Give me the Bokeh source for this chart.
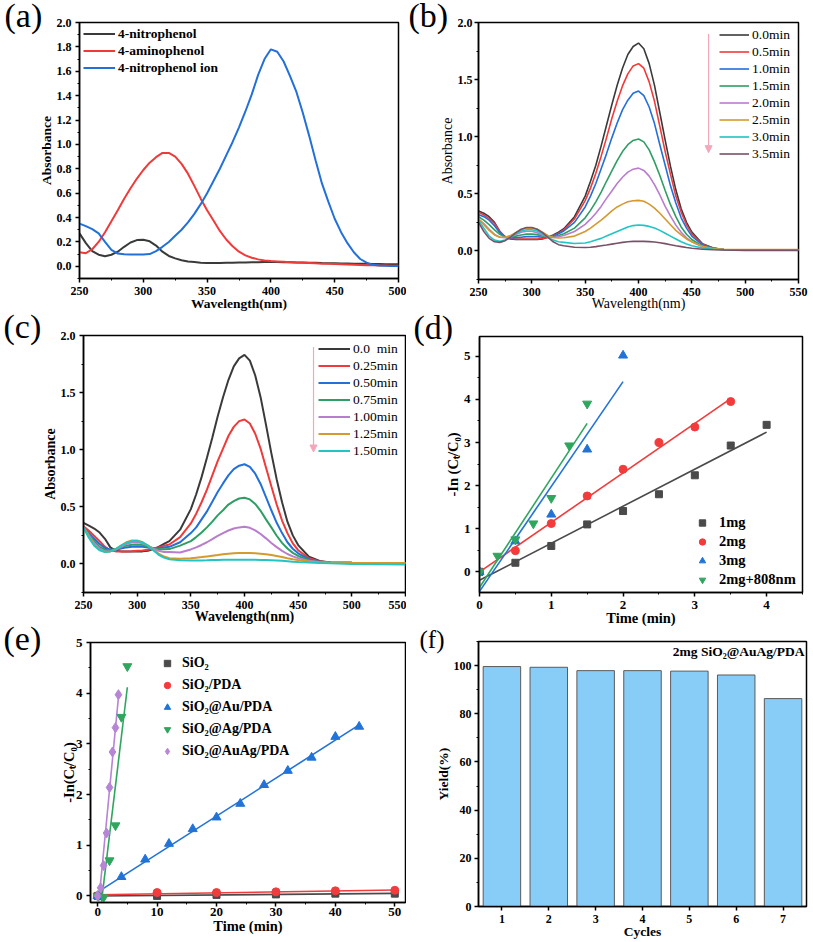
import numpy as np
from jinja2 import Template
from bokeh.plotting import figure
from bokeh.models import (Legend, LegendItem, Label, Arrow, NormalHead, Range1d,
                          SingleIntervalTicker, FixedTicker, NumeralTickFormatter)
from bokeh.embed import file_html
from bokeh.resources import INLINE

FONT = "Liberation Serif"

# ---------------- data ----------------
# (a) reference spectra
WL_A = [250, 255, 260, 265, 270, 275, 280, 285, 290, 295, 300, 305, 310, 315, 320, 325, 330, 335, 340, 345,
        350, 355, 360, 365, 370, 375, 380, 385, 390, 395, 400, 405, 410, 415, 420, 425, 430, 435, 440, 445,
        450, 455, 460, 465, 470, 475, 480, 485, 490, 495, 500]
A_LABELS = ["4-nitrophenol", "4-aminophenol", "4-nitrophenol ion"]
A_NP = [0.27, 0.19, 0.125, 0.095, 0.083, 0.095, 0.12, 0.16, 0.195, 0.215, 0.218, 0.205, 0.17, 0.12, 0.085, 0.065,
        0.05, 0.04, 0.035, 0.03, 0.028, 0.028, 0.028, 0.029, 0.03, 0.031, 0.032, 0.033, 0.034, 0.035, 0.035, 0.035,
        0.034, 0.033, 0.032, 0.031, 0.03, 0.029, 0.027, 0.026, 0.025, 0.024, 0.023, 0.022, 0.021, 0.02, 0.019,
        0.018, 0.017, 0.016, 0.016]
A_AP = [0.115, 0.108, 0.14, 0.2, 0.28, 0.37, 0.46, 0.555, 0.64, 0.72, 0.79, 0.85, 0.895, 0.93, 0.93, 0.9, 0.84,
        0.76, 0.66, 0.555, 0.46, 0.375, 0.29, 0.22, 0.165, 0.12, 0.09, 0.07, 0.057, 0.048, 0.043, 0.04, 0.037,
        0.034, 0.031, 0.029, 0.027, 0.025, 0.022, 0.02, 0.018, 0.016, 0.014, 0.012, 0.01, 0.009, 0.008, 0.007,
        0.006, 0.005, 0.005]
A_ION = [0.35, 0.33, 0.305, 0.27, 0.2, 0.135, 0.105, 0.098, 0.096, 0.096, 0.097, 0.1, 0.125, 0.16, 0.2, 0.25,
         0.3, 0.36, 0.43, 0.51, 0.6, 0.7, 0.8, 0.91, 1.02, 1.14, 1.27, 1.41, 1.57, 1.70, 1.78, 1.76, 1.68, 1.56,
         1.43, 1.26, 1.07, 0.87, 0.68, 0.53, 0.39, 0.28, 0.19, 0.115, 0.06, 0.03, 0.012, 0.006, 0.004, 0.003,
         0.003]

# (b), (c) time-resolved spectra
WL_BC = [250, 255, 260, 265, 270, 275, 280, 285, 290, 295, 300, 305, 310, 315, 320, 325, 330, 340, 350, 355,
         360, 365, 370, 375, 380, 385, 390, 395, 400, 405, 410, 415, 420, 425, 430, 435, 440, 445, 450, 460,
         470, 480, 500, 525, 550]

B_LABELS = ["0.0min", "0.5min", "1.0min", "1.5min", "2.0min", "2.5min", "3.0min", "3.5min"]
B_00 = [0.35, 0.33, 0.30, 0.25, 0.17, 0.12, 0.105, 0.10, 0.10, 0.10, 0.10, 0.10, 0.105, 0.12, 0.14, 0.165, 0.195,
        0.30, 0.48, 0.61, 0.75, 0.92, 1.10, 1.28, 1.45, 1.60, 1.72, 1.79, 1.82, 1.77, 1.64, 1.45, 1.21, 0.97,
        0.74, 0.535, 0.37, 0.25, 0.165, 0.062, 0.026, 0.012, 0.01, 0.01, 0.01]
B_05 = [0.34, 0.315, 0.285, 0.24, 0.17, 0.125, 0.11, 0.105, 0.105, 0.105, 0.105, 0.105, 0.11, 0.118, 0.135, 0.155,
        0.185, 0.28, 0.44, 0.55, 0.68, 0.83, 0.99, 1.16, 1.31, 1.445, 1.55, 1.62, 1.64, 1.60, 1.48, 1.31, 1.09,
        0.87, 0.67, 0.48, 0.34, 0.23, 0.15, 0.058, 0.025, 0.012, 0.01, 0.01, 0.01]
B_10 = [0.32, 0.30, 0.27, 0.22, 0.16, 0.125, 0.115, 0.115, 0.12, 0.125, 0.127, 0.125, 0.12, 0.12, 0.13, 0.15,
        0.175, 0.25, 0.385, 0.48, 0.59, 0.72, 0.85, 0.99, 1.12, 1.235, 1.32, 1.38, 1.40, 1.36, 1.26, 1.115, 0.93,
        0.75, 0.57, 0.42, 0.29, 0.20, 0.13, 0.052, 0.023, 0.012, 0.01, 0.01, 0.01]
B_15 = [0.30, 0.27, 0.23, 0.185, 0.145, 0.12, 0.12, 0.13, 0.14, 0.147, 0.148, 0.143, 0.132, 0.122, 0.125, 0.135,
        0.15, 0.20, 0.29, 0.355, 0.43, 0.515, 0.61, 0.70, 0.79, 0.87, 0.93, 0.967, 0.98, 0.955, 0.885, 0.78, 0.66,
        0.53, 0.405, 0.30, 0.21, 0.146, 0.10, 0.042, 0.02, 0.012, 0.01, 0.01, 0.01]
B_20 = [0.28, 0.24, 0.19, 0.145, 0.12, 0.115, 0.125, 0.145, 0.163, 0.173, 0.172, 0.16, 0.14, 0.122, 0.118, 0.125,
        0.135, 0.17, 0.233, 0.278, 0.33, 0.39, 0.46, 0.525, 0.59, 0.645, 0.69, 0.716, 0.725, 0.705, 0.655, 0.58,
        0.49, 0.39, 0.305, 0.226, 0.163, 0.115, 0.081, 0.036, 0.018, 0.012, 0.01, 0.01, 0.01]
B_25 = [0.28, 0.23, 0.18, 0.14, 0.12, 0.12, 0.135, 0.16, 0.185, 0.20, 0.202, 0.19, 0.165, 0.135, 0.118, 0.113,
        0.115, 0.13, 0.17, 0.20, 0.235, 0.27, 0.31, 0.35, 0.385, 0.41, 0.43, 0.44, 0.443, 0.435, 0.41, 0.375,
        0.33, 0.28, 0.23, 0.18, 0.14, 0.105, 0.08, 0.04, 0.02, 0.014, 0.012, 0.012, 0.012]
B_30 = [0.27, 0.20, 0.13, 0.095, 0.085, 0.095, 0.12, 0.15, 0.175, 0.185, 0.185, 0.175, 0.15, 0.12, 0.095, 0.08,
        0.075, 0.065, 0.07, 0.08, 0.095, 0.11, 0.13, 0.15, 0.17, 0.19, 0.21, 0.222, 0.227, 0.224, 0.215, 0.20,
        0.18, 0.155, 0.13, 0.105, 0.08, 0.06, 0.045, 0.025, 0.015, 0.01, 0.008, 0.008, 0.008]
B_35 = [0.25, 0.17, 0.11, 0.08, 0.075, 0.09, 0.12, 0.16, 0.19, 0.205, 0.205, 0.19, 0.16, 0.12, 0.08, 0.055,
        0.045, 0.032, 0.03, 0.032, 0.038, 0.045, 0.052, 0.06, 0.068, 0.075, 0.081, 0.084, 0.085, 0.084, 0.082,
        0.078, 0.072, 0.064, 0.055, 0.046, 0.038, 0.03, 0.024, 0.015, 0.01, 0.008, 0.005, 0.005, 0.005]

C_LABELS = ["0.0  min", "0.25min", "0.50min", "0.75min", "1.00min", "1.25min", "1.50min"]
C_000 = [0.36, 0.335, 0.31, 0.275, 0.22, 0.145, 0.115, 0.11, 0.11, 0.11, 0.11, 0.11, 0.115, 0.13, 0.15, 0.175,
         0.20, 0.30, 0.48, 0.61, 0.76, 0.93, 1.105, 1.29, 1.46, 1.61, 1.73, 1.80, 1.83, 1.78, 1.65, 1.46, 1.22,
         0.97, 0.74, 0.54, 0.37, 0.25, 0.165, 0.063, 0.026, 0.012, 0.01, 0.008, 0.008]
C_025 = [0.33, 0.29, 0.245, 0.2, 0.15, 0.12, 0.11, 0.11, 0.11, 0.112, 0.115, 0.118, 0.125, 0.135, 0.145, 0.16,
         0.17, 0.235, 0.355, 0.44, 0.54, 0.65, 0.775, 0.90, 1.01, 1.12, 1.20, 1.25, 1.265, 1.23, 1.14, 1.01,
         0.845, 0.68, 0.52, 0.38, 0.27, 0.18, 0.12, 0.05, 0.022, 0.012, 0.01, 0.008, 0.008]
C_050 = [0.32, 0.27, 0.22, 0.175, 0.14, 0.125, 0.125, 0.135, 0.145, 0.15, 0.152, 0.15, 0.145, 0.14, 0.14, 0.145,
         0.15, 0.19, 0.27, 0.32, 0.39, 0.46, 0.545, 0.63, 0.705, 0.775, 0.83, 0.86, 0.873, 0.85, 0.79, 0.70,
         0.585, 0.47, 0.36, 0.27, 0.19, 0.133, 0.093, 0.04, 0.018, 0.012, 0.01, 0.008, 0.008]
C_075 = [0.32, 0.26, 0.2, 0.15, 0.125, 0.12, 0.13, 0.145, 0.16, 0.168, 0.17, 0.165, 0.15, 0.138, 0.13, 0.128,
         0.13, 0.16, 0.20, 0.235, 0.275, 0.32, 0.37, 0.425, 0.47, 0.52, 0.55, 0.573, 0.58, 0.565, 0.525, 0.465,
         0.39, 0.32, 0.247, 0.185, 0.135, 0.097, 0.07, 0.033, 0.016, 0.01, 0.008, 0.008, 0.008]
C_100 = [0.32, 0.25, 0.18, 0.135, 0.11, 0.11, 0.125, 0.15, 0.175, 0.19, 0.192, 0.18, 0.16, 0.135, 0.115, 0.105,
         0.105, 0.10, 0.127, 0.145, 0.166, 0.19, 0.217, 0.245, 0.27, 0.293, 0.31, 0.32, 0.325, 0.316, 0.294,
         0.262, 0.224, 0.184, 0.147, 0.114, 0.087, 0.066, 0.051, 0.027, 0.014, 0.01, 0.008, 0.008, 0.008]
C_125 = [0.32, 0.24, 0.17, 0.125, 0.105, 0.11, 0.13, 0.16, 0.19, 0.205, 0.205, 0.19, 0.16, 0.125, 0.09, 0.065,
         0.05, 0.045, 0.05, 0.055, 0.06, 0.066, 0.072, 0.078, 0.085, 0.09, 0.093, 0.095, 0.096, 0.096, 0.094,
         0.09, 0.085, 0.078, 0.07, 0.06, 0.05, 0.042, 0.035, 0.022, 0.015, 0.01, 0.008, 0.008, 0.008]
C_150 = [0.32, 0.23, 0.16, 0.12, 0.105, 0.11, 0.13, 0.16, 0.185, 0.2, 0.2, 0.19, 0.16, 0.12, 0.08, 0.055,
         0.04, 0.032, 0.03, 0.03, 0.031, 0.032, 0.034, 0.035, 0.036, 0.037, 0.037, 0.037, 0.037, 0.037, 0.036,
         0.035, 0.034, 0.032, 0.03, 0.027, 0.024, 0.02, 0.017, 0.012, 0.008, 0.005, 0.0, -0.003, -0.005]

# (d) kinetics, catalyst amount
D_LABELS = ["1mg", "2mg", "3mg", "2mg+808nm"]
D_T1 = [0, 0.5, 1, 1.5, 2, 2.5, 3, 3.5, 4]
D_Y1 = [0, 0.21, 0.60, 1.10, 1.41, 1.80, 2.24, 2.93, 3.41]
D_T2 = [0, 0.5, 1, 1.5, 2, 2.5, 3, 3.5]
D_Y2 = [0, 0.49, 1.12, 1.76, 2.38, 3.00, 3.36, 3.95]
D_T3 = [0, 0.5, 1, 1.5, 2]
D_Y3 = [0, 0.71, 1.33, 2.84, 5.02]
D_T4 = [0, 0.25, 0.5, 0.75, 1, 1.25, 1.5]
D_Y4 = [0, 0.37, 0.75, 1.12, 1.71, 2.93, 3.90]

# (e) kinetics, catalyst type
E_LABELS = ["SiO\u2082", "SiO\u2082/PDA", "SiO\u2082@Au/PDA", "SiO\u2082@Ag/PDA", "SiO\u2082@AuAg/PDA"]
E_T1 = [0, 10, 20, 30, 40, 50]
E_Y1 = [0, 0.0, 0.02, 0.03, 0.045, 0.045]
E_T2 = [0, 10, 20, 30, 40, 50]
E_Y2 = [0, 0.066, 0.066, 0.08, 0.10, 0.11]
E_T3 = [0, 4, 8, 12, 16, 20, 24, 28, 32, 36, 40, 44]
E_Y3 = [0, 0.375, 0.72, 1.03, 1.32, 1.55, 1.82, 2.19, 2.47, 2.73, 3.14, 3.34]
E_T4 = [0, 1, 2, 3, 4, 5]
E_Y4 = [0, -0.03, 0.70, 1.39, 3.53, 4.53]
E_T5 = [0, 0.5, 1, 1.5, 2, 2.5, 3, 3.5]
E_Y5 = [0, 0.16, 0.60, 1.24, 2.14, 2.84, 3.32, 3.97]

# (f) recycling
F_CYCLES = [1, 2, 3, 4, 5, 6, 7]
F_YIELD = [99.6, 99.3, 97.9, 97.9, 97.7, 96.1, 86.3]

# ---------------- styling ----------------
COL8 = ["#3a3a3a", "#f03a3a", "#2270d8", "#2e9e64", "#b87dcc", "#d49a2e", "#22c4c4", "#7a5068"]
MK_COL = ["#4a4a4a", "#f23b3b", "#2273d8", "#2fa65e", "#b784d6"]
PINK = "#f2a7ba"

# page position of every root (left, top) in pixels
POS = {"pa": (0, 0), "pc": (0, 313), "pe": (0, 626),
       "pb": (406, 0), "pd": (406, 313), "pf": (406, 629),
       "la": (0, 0), "lb": (406, 0), "lc": (0, 305), "ld": (406, 310), "le": (0, 620), "lf": (406, 622)}


def make_fig(name, w, h, xr, yr, left, right, top, bottom):
    p = figure(width=w, height=h, x_range=Range1d(*xr), y_range=Range1d(*yr),
               output_backend="svg", toolbar_location=None,
               min_border_left=left, min_border_right=right,
               min_border_top=top, min_border_bottom=bottom)
    p.name = name
    p.xgrid.visible = False
    p.ygrid.visible = False
    p.outline_line_color = "black"
    p.outline_line_width = 1.5
    p.outline_line_alpha = 1
    p.background_fill_color = "white"
    p.border_fill_color = "white"
    return p


def letter_fig(name, text, w, h, x, y, size="34px"):
    f = figure(width=w, height=h, x_range=Range1d(0, w), y_range=Range1d(0, h),
               output_backend="svg", toolbar_location=None, x_axis_type=None, y_axis_type=None,
               min_border=0, min_border_left=0, min_border_right=0, min_border_top=0, min_border_bottom=0)
    f.name = name
    f.outline_line_color = None
    f.background_fill_alpha = 0
    f.border_fill_alpha = 0
    f.add_layout(Label(x=x, y=y, x_units="screen", y_units="screen", text=text,
                       text_font=FONT, text_font_size=size, text_color="black",
                       text_baseline="alphabetic", text_align="left"))
    return f


def style_axes(p, xlabel, ylabel, label_style, tick_size, label_size,
               x_std=4, y_std=4, xl_std=-2, yl_std=0):
    for ax, lab, std, lstd in ((p.xaxis[0], xlabel, x_std, xl_std), (p.yaxis[0], ylabel, y_std, yl_std)):
        ax.axis_label = lab
        ax.axis_line_width = 1.5
        ax.axis_line_color = "black"
        ax.major_tick_line_width = 1.5
        ax.minor_tick_line_width = 1
        ax.major_tick_out = 4
        ax.major_tick_in = 0
        ax.minor_tick_out = 2
        ax.minor_tick_in = 0
        ax.major_label_standoff = std
        ax.axis_label_standoff = lstd
        ax.major_label_text_font = FONT
        ax.major_label_text_font_style = "bold"
        ax.major_label_text_font_size = tick_size
        ax.major_label_text_color = "black"
        ax.axis_label_text_font = FONT
        ax.axis_label_text_font_style = label_style
        ax.axis_label_text_font_size = label_size
        ax.axis_label_text_color = "black"


def add_legend(p, items, loc, style, size, glyph_w, row_h, standoff):
    leg = Legend(items=items, location=loc, orientation="vertical",
                 background_fill_alpha=0, border_line_alpha=0,
                 padding=0, spacing=0, margin=0,
                 glyph_width=glyph_w, glyph_height=row_h, label_height=row_h,
                 label_standoff=standoff, label_text_font=FONT,
                 label_text_font_style=style, label_text_font_size=size,
                 label_text_color="black")
    p.add_layout(leg)


# ---------------- (a) ----------------
pa = make_fig("pa", 406, 313, (250, 500), (-0.1, 2.0), 79, 8, 22, 35)
style_axes(pa, "Wavelength(nm)", "Absorbance", "bold", "12px", "13.5px")
pa.xaxis.ticker = SingleIntervalTicker(interval=50, num_minor_ticks=2)
pa.yaxis.ticker = SingleIntervalTicker(interval=0.2, num_minor_ticks=2)
pa.yaxis.formatter = NumeralTickFormatter(format="0.0")
items = []
for lab, ys, col in zip(A_LABELS, [A_NP, A_AP, A_ION], [COL8[0], COL8[1], COL8[2]]):
    r = pa.line(WL_A, ys, line_color=col, line_width=2)
    items.append(LegendItem(label=lab, renderers=[r]))
add_legend(pa, items, (4, 202), "bold", "13.5px", 32, 17, 3)

# ---------------- (b) ----------------
pb = make_fig("pb", 407, 313, (250, 550), (-0.25, 2.0), 72, 15, 22, 34)
style_axes(pb, "Wavelength(nm)", "Absorbance", "normal", "12px", "14px", y_std=2, xl_std=-3)
pb.xaxis.ticker = SingleIntervalTicker(interval=50, num_minor_ticks=2)
pb.yaxis.ticker = SingleIntervalTicker(interval=0.5, num_minor_ticks=2)
pb.yaxis.formatter = NumeralTickFormatter(format="0.0")
items = []
for lab, ys, col in zip(B_LABELS, [B_00, B_05, B_10, B_15, B_20, B_25, B_30, B_35], COL8):
    r = pb.line(WL_BC, ys, line_color=col, line_width=1.6)
    items.append(LegendItem(label=lab, renderers=[r]))
add_legend(pb, items, (241, 117), "normal", "13.5px", 30, 17, 3)
pb.add_layout(Arrow(end=NormalHead(size=7, fill_color=PINK, line_color=PINK),
                    x_start=465.7, y_start=1.90, x_end=465.7, y_end=0.86,
                    line_color=PINK, line_width=1.2))

# ---------------- (c) ----------------
pc = make_fig("pc", 406, 313, (250, 550), (-0.25, 2.0), 83, 1, 22, 34)
style_axes(pc, "Wavelength(nm)", "Absorbance", "bold", "12px", "14px", xl_std=-3)
pc.xaxis.ticker = SingleIntervalTicker(interval=50, num_minor_ticks=2)
pc.yaxis.ticker = SingleIntervalTicker(interval=0.5, num_minor_ticks=2)
pc.yaxis.formatter = NumeralTickFormatter(format="0.0")
items = []
for lab, ys, col in zip(C_LABELS, [C_000, C_025, C_050, C_075, C_100, C_125, C_150], COL8[:7]):
    r = pc.line(WL_BC, ys, line_color=col, line_width=2)
    items.append(LegendItem(label=lab, renderers=[r]))
add_legend(pc, items, (235, 133), "normal", "13.5px", 32, 17, 3)
pc.add_layout(Arrow(end=NormalHead(size=7, fill_color=PINK, line_color=PINK),
                    x_start=464.3, y_start=1.90, x_end=464.3, y_end=0.98,
                    line_color=PINK, line_width=1.2))

# ---------------- (d) ----------------
pd_ = make_fig("pd", 407, 316, (0, 4.5), (-0.48, 5.46), 73, 11, 23, 37)
style_axes(pd_, "Time (min)", "-In (C\u209c/C\u2080)", "bold", "13px", "14.5px", y_std=5, xl_std=-2)
pd_.xaxis.ticker = SingleIntervalTicker(interval=1, num_minor_ticks=2)
pd_.yaxis.ticker = SingleIntervalTicker(interval=1, num_minor_ticks=2)
d_sets = [(D_T1, D_Y1, "square", 7), (D_T2, D_Y2, "circle", 8), (D_T3, D_Y3, "triangle", 9),
          (D_T4, D_Y4, "inverted_triangle", 9)]
for (t, y, mk, sz), col in zip(d_sets, MK_COL):
    k, b = np.polyfit(t, y, 1)
    xs = [min(t), max(t)]
    pd_.line(xs, [k * x + b for x in xs], line_color=col, line_width=1.6)
items = []
for (t, y, mk, sz), col, lab in zip(d_sets, MK_COL, D_LABELS):
    r = pd_.scatter(t, y, marker=mk, size=sz, fill_color=col, line_color=col)
    items.append(LegendItem(label=lab, renderers=[r]))
add_legend(pd_, items, (215, 3), "bold", "14.5px", 16, 19, 9)

# ---------------- (e) ----------------
pe = make_fig("pe", 406, 316, (-1.2, 51.8), (-0.13, 5.0), 90, 1, 16, 40)
style_axes(pe, "Time (min)", "-In(C\u209c/C\u2080)", "bold", "13px", "14.5px", x_std=1, xl_std=-1, yl_std=-4)
pe.xaxis.ticker = SingleIntervalTicker(interval=10, num_minor_ticks=2)
pe.yaxis.ticker = SingleIntervalTicker(interval=1, num_minor_ticks=2)
e_sets = [(E_T1, E_Y1, "square", 7), (E_T2, E_Y2, "circle", 8), (E_T3, E_Y3, "triangle", 9),
          (E_T4, E_Y4, "inverted_triangle", 9), (E_T5, E_Y5, "diamond", 10)]
for (t, y, mk, sz), col in zip(e_sets, MK_COL):
    k, b = np.polyfit(t, y, 1)
    xs = [min(t), max(t)]
    pe.line(xs, [k * x + b for x in xs], line_color=col, line_width=1.6)
items = []
for (t, y, mk, sz), col, lab in zip(e_sets, MK_COL, E_LABELS):
    r = pe.scatter(t, y, marker=mk, size=sz, fill_color=col, line_color=col)
    items.append(LegendItem(label=lab, renderers=[r]))
add_legend(pe, items, (69, 140), "bold", "14px", 16, 22, 7)

# ---------------- (f) ----------------
pf = make_fig("pf", 407, 313, (0.5, 7.5), (0, 110), 72, 7, 12, 36)
style_axes(pf, "Cycles", "Yield(%)", "bold", "12px", "13.5px", y_std=3, xl_std=-2)
pf.xaxis.ticker = FixedTicker(ticks=F_CYCLES, minor_ticks=[])
pf.yaxis.ticker = SingleIntervalTicker(interval=20, num_minor_ticks=2)
pf.vbar(x=F_CYCLES, top=F_YIELD, width=0.8, bottom=0, fill_color="#88cdf8",
        line_color="#5a5a5a", line_width=1)
pf.add_layout(Label(x=326, y=255, x_units="screen", y_units="screen",
                    text="2mg SiO\u2082@AuAg/PDA", text_align="right", text_baseline="alphabetic",
                    text_font=FONT, text_font_style="bold", text_font_size="13.5px", text_color="black"))

# ---------------- panel letters ----------------
la = letter_fig("la", "(a)", 50, 40, 4, 25)
lb = letter_fig("lb", "(b)", 50, 40, 2, 25)
lc = letter_fig("lc", "(c)", 50, 45, 3, 24)
ld = letter_fig("ld", "(d)", 50, 45, 7, 28)
le = letter_fig("le", "(e)", 50, 45, 3, 27)
lf = letter_fig("lf", "(f)", 50, 40, 13, 23, size="25px")

PAGE = Template("""<!DOCTYPE html>
<html lang="en">
<head>
<meta charset="utf-8">
<title>{{ title }}</title>
<style>html, body { margin: 0; padding: 0; background: white; }</style>
{{ bokeh_css }}
{{ bokeh_js }}
</head>
<body>
<div style="position: relative; width: 813px; height: 942px;">
{% for doc in docs %}{% for root in doc.roots %}
<div style="position: absolute; left: {{ pos[root.name][0] }}px; top: {{ pos[root.name][1] }}px;"><div id="{{ root.elementid }}" style="display: contents;"></div></div>
{% endfor %}{% endfor %}
</div>
{{ plot_script }}
</body>
</html>
""")

roots = [pa, pb, pc, pd_, pe, pf, la, lb, lc, ld, le, lf]
open("out.html", "w").write(file_html(roots, INLINE, title="figure",
                                      template=PAGE, template_variables={"pos": POS}))
